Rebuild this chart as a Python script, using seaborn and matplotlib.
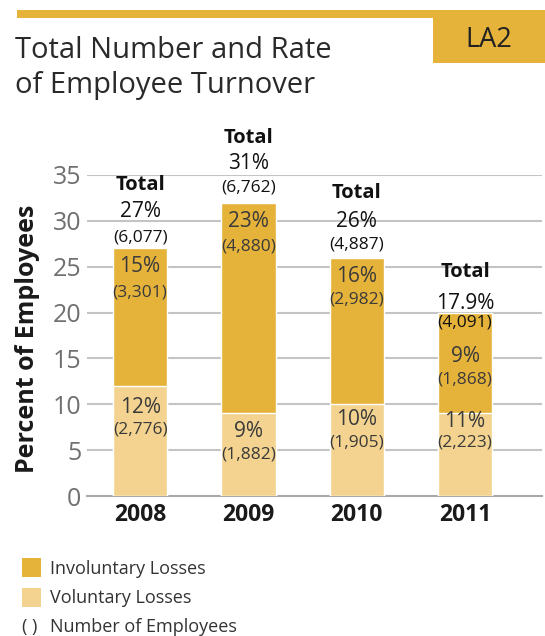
import matplotlib
matplotlib.use("Agg")
import matplotlib.pyplot as plt
import seaborn as sns
import pandas as pd
from matplotlib.patches import Rectangle

# ---- data ----
years = ["2008", "2009", "2010", "2011"]
voluntary = [12, 9, 10, 9]          # bar heights (light)
involuntary = [15, 23, 16, 11]      # bar heights (dark, stacked)
total_pct_labels = ["27%", "31%", "26%", "17.9%"]
total_num_labels = ["(6,077)", "(6,762)", "(4,887)", "(4,091)"]
inv_pct_labels = ["15%", "23%", "16%", "9%"]
inv_num_labels = ["(3,301)", "(4,880)", "(2,982)", "(1,868)"]
vol_pct_labels = ["12%", "9%", "10%", "11%"]
vol_num_labels = ["(2,776)", "(1,882)", "(1,905)", "(2,223)"]
yticks = [0, 5, 10, 15, 20, 25, 30, 35]

# ---- label layout (data units) ----
total_word_y = [33.9, 39.0, 33.0, 24.4]
total_pct_y = [31.0, 36.3, 29.9, 21.0]
total_num_y = [28.2, 33.6, 27.4, 18.9]
inv_pct_y = [25.0, 29.9, 23.9, 15.2]
inv_num_y = [22.2, 27.2, 21.4, 12.7]
vol_pct_y = [9.7, 7.0, 8.3, 8.1]
vol_num_y = [7.2, 4.5, 5.8, 5.8]

DARK = "#E5B23A"
LIGHT = "#F3D38F"
FONT = ["Open Sans", "DejaVu Sans"]

sns.set_theme(style="white")
plt.rcParams["font.family"] = FONT

df = pd.DataFrame({
    "year": years,
    "vol": voluntary,
    "total": [v + i for v, i in zip(voluntary, involuntary)],
})

fig = plt.figure(figsize=(5.45, 6.36), dpi=100)
ax = fig.add_axes([87 / 545, 140 / 636, (542 - 87) / 545, (496 - 175) / 636])

sns.barplot(data=df, x="year", y="total", color=DARK, width=0.5,
            saturation=1, ax=ax, zorder=3)
sns.barplot(data=df, x="year", y="vol", color=LIGHT, width=0.5,
            saturation=1, ax=ax, zorder=3)

ax.set_xlim(-0.49, 3.71)
ax.set_ylim(0, 35)
ax.set_yticks(yticks)
ax.set_yticklabels([str(t) for t in yticks], fontsize=18, color="#707070")
ax.set_xticks(range(len(years)))
ax.set_xticklabels(years, fontsize=16.5, fontweight="bold", color="#1a1a1a")
ax.tick_params(axis="y", length=0, pad=4)
ax.tick_params(axis="x", length=0, pad=5)
ax.set_xlabel("")
ax.set_ylabel("Percent of Employees", fontsize=18, fontweight="bold",
              color="#1a1a1a")
ax.yaxis.set_label_coords(-0.103, 0.49)
for t in yticks[1:]:
    ax.axhline(t, color="#c4c4c4", lw=1.5, zorder=1)
for s in ["top", "right", "left"]:
    ax.spines[s].set_visible(False)
ax.spines["bottom"].set_color("#a8a8a8")
ax.spines["bottom"].set_linewidth(1.5)

for i in range(len(years)):
    ax.text(i, total_word_y[i], "Total", ha="center", va="center",
            fontsize=14.5, fontweight="bold", color="#111111", clip_on=False)
    ax.text(i, total_pct_y[i], total_pct_labels[i], ha="center", va="center",
            fontsize=15, color="#111111", clip_on=False)
    ax.text(i, total_num_y[i], total_num_labels[i], ha="center", va="center",
            fontsize=12.5, color="#111111", clip_on=False)
    ax.text(i, inv_pct_y[i], inv_pct_labels[i], ha="center", va="center",
            fontsize=15, color="#3a3a3a", zorder=5)
    ax.text(i, inv_num_y[i], inv_num_labels[i], ha="center", va="center",
            fontsize=12.5, color="#3a3a3a", zorder=5)
    ax.text(i, vol_pct_y[i], vol_pct_labels[i], ha="center", va="center",
            fontsize=15, color="#3a3a3a", zorder=5)
    ax.text(i, vol_num_y[i], vol_num_labels[i], ha="center", va="center",
            fontsize=12.5, color="#3a3a3a", zorder=5)

W, H = 545, 636

def fx(x):
    return x / W

def fy(y):
    return 1 - y / H

# header bar and LA2 box
fig.patches.append(Rectangle((fx(17), fy(18)), fx(545 - 17), 8 / H,
                             transform=fig.transFigure, color=DARK, lw=0))
fig.patches.append(Rectangle((fx(433), fy(63)), fx(545 - 433), 45 / H,
                             transform=fig.transFigure, color=DARK, lw=0))
fig.text(fx(489), fy(40), "LA2", ha="center", va="center", fontsize=19.5,
         color="#222222")

fig.text(fx(15), fy(58), "Total Number and Rate", ha="left", va="baseline",
         fontsize=21, color="#2a2a2a")
fig.text(fx(15), fy(93), "of Employee Turnover", ha="left", va="baseline",
         fontsize=21, color="#2a2a2a")

# legend
fig.patches.append(Rectangle((fx(22), fy(577)), 19 / W, 19 / H,
                             transform=fig.transFigure, color=DARK, lw=0))
fig.patches.append(Rectangle((fx(22), fy(607)), 19 / W, 19 / H,
                             transform=fig.transFigure, color=LIGHT, lw=0))
fig.text(fx(50), fy(569), "Involuntary Losses", ha="left", va="center",
         fontsize=13, color="#333333")
fig.text(fx(50), fy(598), "Voluntary Losses", ha="left", va="center",
         fontsize=13, color="#333333")
fig.text(fx(30), fy(627), "( )", ha="center", va="center",
         fontsize=13, color="#333333")
fig.text(fx(50), fy(627), "Number of Employees", ha="left", va="center",
         fontsize=13, color="#333333")

fig.savefig("out.png", dpi=100)
